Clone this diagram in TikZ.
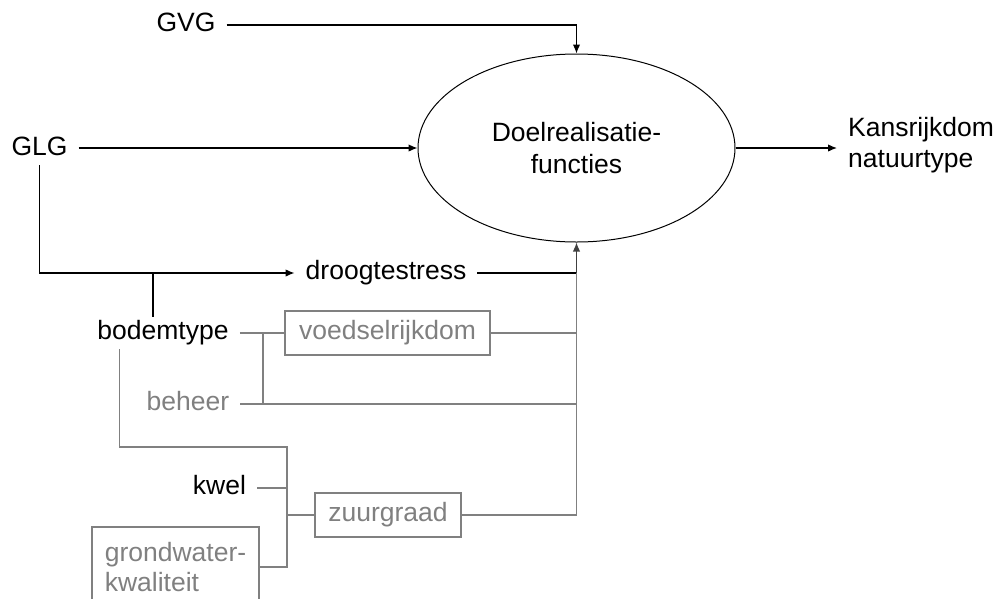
\documentclass[tikz,border=0pt]{standalone}
\usepackage{fontspec}
\setmainfont{Liberation Sans}
\usetikzlibrary{arrows.meta,shapes.geometric,calc}
\definecolor{linegray}{HTML}{808080}
\definecolor{tipgray}{HTML}{404040}
\tikzset{
  lbl/.style={font=\fontsize{26.5}{31}\selectfont, text height=19pt, text depth=5.5pt,
              inner xsep=11pt, inner ysep=4pt},
  lblgray/.style={lbl, text=linegray},
  factor/.style={draw=linegray, line width=1.1pt, text=linegray, inner sep=0pt,
                 font=\fontsize{26.5}{31}\selectfont},
  flow/.style={line width=1.3pt, -{Latex[length=9pt,width=7.5pt]}},
  link/.style={line width=1.3pt},
  glink/.style={line width=1.1pt, draw=linegray},
}
\begin{document}
\begin{tikzpicture}[x=1pt,y=-1pt]
\useasboundingbox (0,0) rectangle (1002,598);

% central model
\node[ellipse, draw, line width=1pt, minimum width=317pt, minimum height=188pt, inner sep=0pt,
      align=center, font=\fontsize{26.5}{32}\selectfont] (ell) at (576.5,148)
      {Doelrealisatie-\\functies};

% inputs and output
\node[lbl] (gvg) at (186,25) {GVG};
\node[lbl] (glg) at (39.5,149) {GLG};
\node[lbl, align=left, anchor=west, text height=, text depth=] (kans) at (837,145)
      {Kansrijkdom\\natuurtype};
\node[lbl] (droog) at (386,273) {droogtestress};
\node[lbl] (bodem) at (163,333) {bodemtype};
\node[lblgray] (beheer) at (188,404) {beheer};
\node[lbl] (kwel) at (219.5,488) {kwel};

% derived factors
\node[factor, minimum width=205pt, minimum height=44pt] (voed) at (387.5,333) {voedselrijkdom};
\node[factor, minimum width=146pt, minimum height=44pt] (zuur) at (388,515) {zuurgraad};
\node[factor, minimum width=167pt, minimum height=80pt, align=left,
      font=\fontsize{26.5}{30}\selectfont] (grond) at (175.5,567) {grondwater-\\kwaliteit};

% junction points
\coordinate (j1) at (263,333);
\coordinate (bus) at (287,447);

% black flows
\draw[flow] (gvg.east) -| (ell.north);
\draw[flow] (glg.east |- ell.west) -- (ell.west);
\draw[flow] (ell.east) -- (ell.east -| kans.west);
\draw[flow] (glg.south) |- (droog.west);
\draw[link] ([xshift=-10pt]bodem.north) -- ([xshift=-10pt]bodem.north |- droog.west);
\draw[link] (droog.east) -- (droog.east -| ell.south);
\draw[flow, draw=tipgray] (droog.east -| ell.south) -- (ell.south);

% grey links
\draw[glink] (zuur.east -| ell.south) -- (droog.east -| ell.south);
\draw[glink] (bodem.east) -- (voed.west);
\draw[glink] (voed.east) -- (voed.east -| ell.south);
\draw[glink] (beheer.east) -- (beheer.east -| ell.south);
\draw[glink] (j1) -- (j1 |- beheer.east);
\draw[glink] ($(bodem.south west)+(33,0)$) |- (bus) -- (bus |- kwel.east);
\draw[glink] (kwel.east) -- (kwel.east -| bus);
\draw[glink] (grond.east) -| (bus |- kwel.east);
\draw[glink] (bus |- zuur.west) -- (zuur.west);
\draw[glink] (zuur.east) -- (zuur.east -| ell.south);
\end{tikzpicture}
\end{document}
